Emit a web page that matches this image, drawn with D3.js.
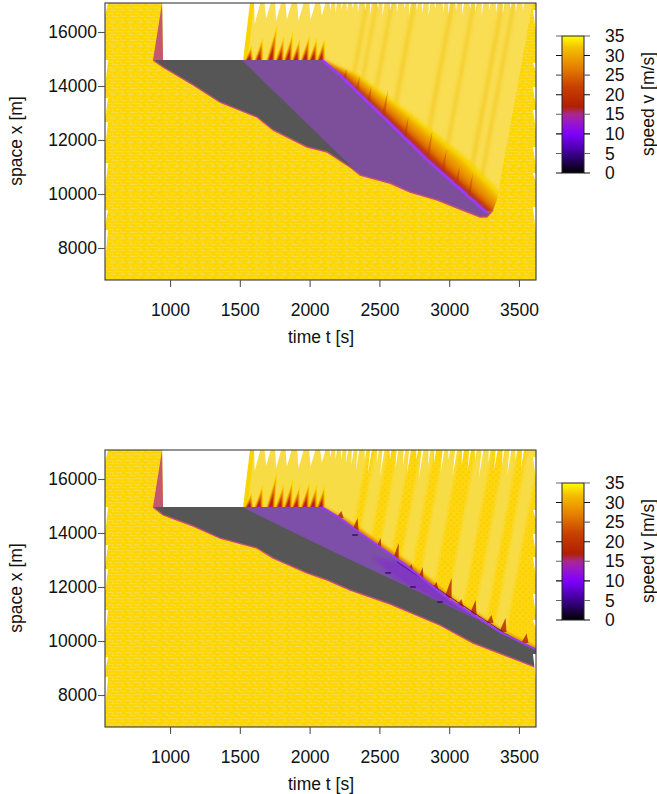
<!DOCTYPE html>
<html>
<head>
<meta charset="utf-8">
<script src="https://cdn.jsdelivr.net/npm/d3@7"></script>
<style>
  html, body { margin: 0; background: #fff; }
  text { font-family: "Liberation Sans", Arial, sans-serif; font-size: 17.5px; fill: #111; }
</style>
</head>
<body>
<svg id="chart" width="657" height="794"></svg>
<script>
// values: [time s, space m]
const tailA = [[878,14960],[950,14700],[1165,14040],[1358,13400],[1623,12850],[1738,12370],[1981,11740],[2125,11555],[2289,11000],[2361,10700],[2576,10400],[2719,10070],[2913,9780],[3056,9480],[3220,9150],[3271,9150],[3314,9400]];
const tailB = [[878,14960],[950,14670],[1165,14260],[1358,13810],[1623,13440],[1738,13070],[1981,12520],[2125,12260],[2289,11890],[2576,11370],[2934,10590],[3170,9925],[3614,9040],[3640,9000]];
const frontA = [[1523,14960],[2089,14960],[2218,14400],[2526,12850],[2841,11260],[3271,9300]];
const frontB = [[1523,14960],[2089,14960],[2218,14555],[2361,14000],[2669,12890],[3006,11520],[3364,10330],[3640,9640]];
const greyEdgeA = [[1515,14960],[2361,10700]];
const greyEdgeB = [[1515,14960],[2218,13185],[2934,11445],[3364,10400],[3640,9640]];
const fanEdgeA = [[3271,9150],[3314,9400],[3342,9780],[3600,17100]];
const fanEdgeB = [[3640,9640],[3640,17100]];

// how far the speed bands trail the front [s], one per front point
const bandDelayA = [0,20,140,230,300,240];
const bandDelayB = [0,10,40,55,60,60,55,50];
const bandSpeed = [33,31,29,27,25,22,20,18,15,11];
const bandShare = [1,0.82,0.66,0.5,0.36,0.25,0.17,0.11,0.06,0.03];

// palette of the colour bar
const speedStops = [0,5,10,13,15,17,22,27,32,35];
const speedColors = ["#000000","#3c0090","#7f00ff","#9a18c8","#a82890","#b02000","#c84000","#e58000","#f5c000","#ffff00"];
const speedTicks = [0,5,10,15,20,25,30,35];

// trajectory stripes in the fan: time at the top of the plot, width [s]
const stripeTopA = [2397,2468,2576,2733,3006,3163,3364,3450];
const stripeWidthA = [30,25,30,35,35,30,35,30];
const stripeTopB = [2010,2300,2470,2630,2800,2960,3190,3400,3560];
const stripeWidthB = [300,120,90,95,95,115,120,95,90];

// head spikes on the top edge of the jam
const spikeT = [1530,1600,1686,1750,1809,1866,1931,1988,2045];
const spikeTop = [15500,15800,16300,15850,16000,15750,15900,15800,15750];
const spikeLayerSpeed = [33,30,26,22,18,13];
const spikeLayerWidth = [62,55,44,32,26,20];
const spikeLayerShare = [1,0.8,0.62,0.42,0.28,0.08];

// white notches along the top edge: time, lowest space, width
const notchT = [1625,1700,1775,1850,1935,2020,2095,2150,2190,2230,2270,2310,2350,2400,2440,2490,2530,2580,2630,2680,2720,2770,2810,2860,2900,2960,3000,3050,3100,3150,3190,3240,3290,3340,3390,3440,3480,3530];
const notchXA = [16300,16500,16400,16450,16400,16450,16600,16800,16700,16850,16750,16850,16700,16800,16650,16850,16600,16800,16700,16850,16600,16800,16700,16600,16850,16750,16650,16800,16600,16850,16750,16600,16800,16700,16650,16850,16750,16800];
const notchXB = [16300,16500,16400,16450,16400,16450,16600,16800,16700,16700,16600,16500,16300,16700,16200,16600,16100,16700,16400,16500,16200,16700,16000,16500,16600,16200,16700,16100,16500,16300,16700,16000,16600,16300,16500,16100,16700,16400];
const notchW = [46,46,44,46,48,46,40,16,14,14,14,14,14,14,14,14,14,14,14,14,14,14,14,14,14,14,14,14,14,14,14,14,14,14,14,14,14,14];

// white slivers on the left and right plot edges: space top, space bottom
const leftSliver = [[17074,16600],[14963,13963],[13555,12740],[12666,11740],[11148,10148],[9400,8850],[8666,7444]];
const rightSliver = [[16815,16000],[14850,14520],[13960,13220],[13110,12370],[11740,11000],[10780,10440],[9520,8555]];

// streaks leaving the front: time, space, height
const streakA = [[2250,14240,400],[2340,13850,500],[2420,13384,600],[2526,12850,1000],[2680,12073,800],[2841,11260,1100],[2950,10763,900],[3050,10307,700],[3135,9790,1000]];
const streakB = [[2218,14555,260],[2325,14037,520],[2490,13296,520],[2612,12889,740],[2719,12555,300],[2791,12185,555],[2898,11890,300],[2991,11592,740],[3077,11260,300],[3170,10963,555],[3292,10666,300],[3385,10333,520],[3542,9925,350]];

// stopped vehicles in the lower panel: time, space
const stopMarks = [[2325,13925],[2562,12520],[2740,12000],[2934,11445]];
const innerLineB = [[2626,12926],[3385,10333]];
const brightWedgeB = [[2450,13100],[2669,12890],[3006,11520],[3364,10330],[3364,10400],[2934,11445],[2600,12400]];

const xTicks = [1000,1500,2000,2500,3000,3500];
const yTicks = [8000,10000,12000,14000,16000];
const freeSpeed = 28; // slope of trajectories in the free flow part

const panels = [
  {dy: 0, tail: tailA, front: frontA, grey: greyEdgeA, fanEdge: fanEdgeA, delay: bandDelayA, stripeTop: stripeTopA, stripeWidth: stripeWidthA, notchX: notchXA, streak: streakA, fanFill: "#f9dd52", stripeFill: "#f5d030", jamFill: "#7d4f9b", streakWidth: 14},
  {dy: 447, tail: tailB, front: frontB, grey: greyEdgeB, fanEdge: fanEdgeB, delay: bandDelayB, stripeTop: stripeTopB, stripeWidth: stripeWidthB, notchX: notchXB, streak: streakB, fanFill: "url(#dots)", stripeFill: "#f8dc45", jamFill: "#7d4fa8", streakWidth: 26},
];

const width = 657;
const height = 794;
const plot = {left: 105, right: 536, top: 3, bottom: 280};
const bar = {left: 562, right: 584, top: 36, bottom: 173};
const fontCss = '"Liberation Sans", Arial, sans-serif';

const x = d3.scaleLinear().domain([534, 3622]).range([plot.left, plot.right]);
const y = d3.scaleLinear().domain([6815, 17074]).range([plot.bottom, plot.top]);
const color = d3.scaleLinear().domain(speedStops).range(speedColors);
const speedY = d3.scaleLinear().domain([0, 35]).range([bar.bottom, bar.top]);
const line = d3.line().x((d) => x(d[0])).y((d) => y(d[1]));
const poly = (pts) => line(pts) + "Z";

const svg = d3.select("#chart").attr("viewBox", `0 0 ${width} ${height}`);
const defs = svg.append("defs");

// mottled look of the densely overlapping trajectory cells
const brick = defs.append("pattern").attr("id", "brick").attr("patternUnits", "userSpaceOnUse").attr("width", 18).attr("height", 12);
brick.append("rect").attr("width", 18).attr("height", 12).attr("fill", "#fdd506");
brick.append("path")
  .attr("d", "M0 1.5H5M8 1.5H13M3 4.5H11M14 4.5H18M0 7.5H4M6 7.5H15M2 10.5H8M11 10.5H17M5 1.5V4.5M13 1.5V4.5M4 7.5V10.5M15 7.5V10.5")
  .attr("stroke", "#f3da55").attr("stroke-width", 0.8).attr("fill", "none");

const dots = defs.append("pattern").attr("id", "dots").attr("patternUnits", "userSpaceOnUse").attr("width", 6).attr("height", 6);
dots.append("rect").attr("width", 6).attr("height", 6).attr("fill", "#fdd60c");
dots.append("path").attr("d", "M0 1H2M3 4H5").attr("stroke", "#f5c60a").attr("stroke-width", 0.9);

const soft = defs.append("filter").attr("id", "soft").attr("x", 0).attr("y", 0).attr("width", 1).attr("height", 1);
soft.append("feGaussianBlur").attr("stdDeviation", 0.35);
defs.append("filter").attr("id", "softer").append("feGaussianBlur").attr("stdDeviation", 1.4);

defs.append("clipPath").attr("id", "plotClip").append("rect")
  .attr("x", plot.left).attr("y", plot.top)
  .attr("width", plot.right - plot.left).attr("height", plot.bottom - plot.top);

const barGrad = defs.append("linearGradient").attr("id", "speedGrad").attr("x1", 0).attr("x2", 0).attr("y1", 1).attr("y2", 0);
barGrad.selectAll("stop").data(speedStops).join("stop")
  .attr("offset", (d) => d / 35)
  .attr("stop-color", (d) => color(d));

function drawPanel(p, i) {
  const g = svg.append("g").attr("transform", `translate(0,${p.dy})`);
  const fanId = `fan${i}`;
  const fanPts = p.front.concat(p.fanEdge.filter((d) => d[0] > p.front[p.front.length - 1][0] || d[1] > 17000), [[1573, 17100]]);
  defs.append("clipPath").attr("id", fanId).append("path").attr("d", poly(fanPts));

  const heat = g.append("g").attr("clip-path", "url(#plotClip)").append("g").attr("filter", "url(#soft)");

  heat.append("rect")
    .attr("x", plot.left).attr("y", plot.top)
    .attr("width", plot.right - plot.left).attr("height", plot.bottom - plot.top)
    .attr("fill", "url(#brick)");

  // free flow fan above the jam
  const fan = heat.append("g").attr("clip-path", `url(#${fanId})`);
  fan.append("path").attr("d", poly(fanPts)).attr("fill", p.fanFill);
  if (i === 1) {
    fan.append("path")
      .attr("d", poly([[1523, 14960], [2089, 14960], [2089, 17100], [1573, 17100]]))
      .attr("fill", p.stripeFill);
  }
  fan.append("g").attr("filter", "url(#softer)").selectAll("path").data(p.stripeTop).join("path")
    .attr("fill", p.stripeFill)
    .attr("d", (d, j) => {
      const dt = (17100 - 8000) / freeSpeed;
      return poly([[d, 17100], [d + p.stripeWidth[j], 17100], [d + p.stripeWidth[j] - dt, 8000], [d - dt, 8000]]);
    });

  // speed bands trailing the front, farthest first
  fan.append("g").attr("filter", "url(#softer)").selectAll("path").data(bandSpeed).join("path")
    .attr("fill", (d) => color(d))
    .attr("d", (d, j) => {
      const shifted = p.front.map((f, k) => [f[0] + p.delay[k] * bandShare[j], f[1]]);
      return poly(p.front.concat(shifted.reverse()));
    });

  fan.selectAll("path.streak").data(p.streak).join("path")
    .attr("class", "streak")
    .attr("fill", color(i === 1 ? 17 : 20))
    .attr("opacity", i === 1 ? 0.8 : 0.45)
    .attr("d", (d) => poly([[d[0] - p.streakWidth, d[1]], [d[0] + p.streakWidth, d[1]], [d[0] + d[2] / freeSpeed, d[1] + d[2]]]));

  // darker edge where the fan starts
  heat.append("path").attr("fill", color(33))
    .attr("d", poly([[1523, 14960], [1555, 14960], [1605, 17100], [1573, 17100]]));

  // spikes along the head of the jam
  spikeLayerSpeed.forEach((speed, j) => {
    heat.append("g").selectAll("path").data(spikeT).join("path")
      .attr("fill", color(speed))
      .attr("d", (d, k) => {
        const h = (spikeTop[k] - 14960) * spikeLayerShare[j];
        const w = spikeLayerWidth[j] / 2;
        return poly([[d + 35 - w, 14960], [d + 35 + w, 14960], [d + 35 + h / freeSpeed, 14960 + h]]);
      });
  });

  // white: nothing measured there
  heat.append("path").attr("fill", "#fff")
    .attr("d", poly([[943, 17100], [950, 14960], [1523, 14960], [1573, 17100]]));
  heat.append("g").selectAll("path").data(notchT).join("path")
    .attr("fill", "#fff")
    .attr("d", (d, j) => poly([[d - notchW[j] / 2, 17100], [d + notchW[j] / 2, 17100], [d - (17100 - p.notchX[j]) / freeSpeed + 10, p.notchX[j]]]));
  heat.append("path").attr("fill", "#c4586e")
    .attr("d", poly([[878, 14960], [943, 17074], [950, 14960]]));

  // inside the jam
  heat.append("path").attr("fill", p.jamFill)
    .attr("d", poly(p.front.concat(p.tail.slice().reverse())));
  if (i === 1) {
    heat.append("path").attr("fill", color(11)).attr("opacity", 0.35).attr("filter", "url(#softer)").attr("d", poly(brightWedgeB));
    heat.append("path").attr("fill", "none").attr("stroke", color(6)).attr("stroke-width", 0.8).attr("d", line(innerLineB));
  }
  const frontEnd = p.grey[p.grey.length - 1][0];
  heat.append("path").attr("fill", "#565656")
    .attr("d", poly([p.tail[0]].concat(p.grey, p.tail.filter((d) => d[0] < frontEnd).reverse())));
  heat.append("path").attr("fill", "none").attr("stroke", "#9a3cf6")
    .attr("stroke-width", i === 1 ? 2 : 2.6)
    .attr("d", line(p.front.slice(1)));
  if (i === 1) {
    heat.append("g").selectAll("path").data(stopMarks).join("path")
      .attr("stroke", color(3)).attr("stroke-width", 1.2)
      .attr("d", (d) => line([[d[0] - 20, d[1]], [d[0] + 20, d[1]]]));
  }

  // free flow below the tail of the jam
  const tailEnd = p.tail[p.tail.length - 1];
  heat.append("path").attr("fill", "url(#brick)")
    .attr("d", poly(p.tail.concat([[3650, tailEnd[1]], [3650, 6700], [500, 6700], [500, p.tail[0][1]]])));
  heat.append("path").attr("fill", "none").attr("stroke", "#e8641e").attr("stroke-width", 1.5).attr("opacity", 0.7).attr("d", line(p.tail));
  heat.append("path").attr("fill", "none").attr("stroke", "#b83ab0").attr("stroke-width", 0.8).attr("d", line(p.tail));

  // slivers where the first cell of a trajectory starts
  const t0 = x.domain()[0];
  const t1 = x.domain()[1];
  heat.append("g").selectAll("path").data(leftSliver).join("path")
    .attr("fill", "#fff")
    .attr("d", (d) => poly([[t0, d[0]], [t0 + 22, d[0]], [t0, d[1]]]));
  heat.append("g").selectAll("path").data(rightSliver).join("path")
    .attr("fill", "#fff")
    .attr("d", (d) => poly([[t1, d[0]], [t1 - 22, d[0]], [t1, d[1]]]));

  // frame and axes
  g.append("rect")
    .attr("x", plot.left).attr("y", plot.top)
    .attr("width", plot.right - plot.left).attr("height", plot.bottom - plot.top)
    .attr("fill", "none").attr("stroke", "#3a3a3a").attr("stroke-width", 1.1);

  const xAxis = g.append("g").attr("transform", `translate(0,${plot.bottom})`)
    .call(d3.axisBottom(x).tickValues(xTicks).tickFormat(d3.format("d")).tickSize(7).tickSizeOuter(0).tickPadding(17));
  const yAxis = g.append("g").attr("transform", `translate(${plot.left},0)`)
    .call(d3.axisLeft(y).tickValues(yTicks).tickFormat(d3.format("d")).tickSize(7).tickSizeOuter(0).tickPadding(1));
  for (const a of [xAxis, yAxis]) {
    a.select(".domain").remove();
    a.selectAll(".tick line").attr("stroke", "#555").attr("stroke-width", 1.1);
    a.selectAll("text").style("font-size", "17.5px").style("font-family", fontCss).attr("fill", "#111");
  }

  g.append("text").attr("x", 321).attr("y", 343).attr("text-anchor", "middle").text("time t [s]");
  g.append("text").attr("transform", "translate(22,141) rotate(-90)").attr("text-anchor", "middle").text("space x [m]");

  // colour bar
  g.append("rect")
    .attr("x", bar.left).attr("y", bar.top)
    .attr("width", bar.right - bar.left).attr("height", bar.bottom - bar.top)
    .attr("fill", "url(#speedGrad)").attr("stroke", "#222").attr("stroke-width", 1);
  const barAxis = g.append("g").attr("transform", `translate(${bar.left},0)`)
    .call(d3.axisRight(speedY).tickValues(speedTicks).tickSize(0).tickPadding(43));
  barAxis.select(".domain").remove();
  barAxis.selectAll("text").style("font-size", "17.5px").style("font-family", fontCss).attr("fill", "#111");
  g.append("g").selectAll("path").data(speedTicks).join("path")
    .attr("stroke", (d, j) => (j % 2 ? "#666" : "#111"))
    .attr("stroke-width", 1.1)
    .attr("d", (d) => `M${bar.left - 6},${speedY(d)}H${bar.left}M${bar.right},${speedY(d)}H${bar.right + 6}`);
  g.append("text").attr("transform", "translate(654,104) rotate(-90)").attr("text-anchor", "middle").text("speed v [m/s]");
}

panels.forEach(drawPanel);
</script>
</body>
</html>
